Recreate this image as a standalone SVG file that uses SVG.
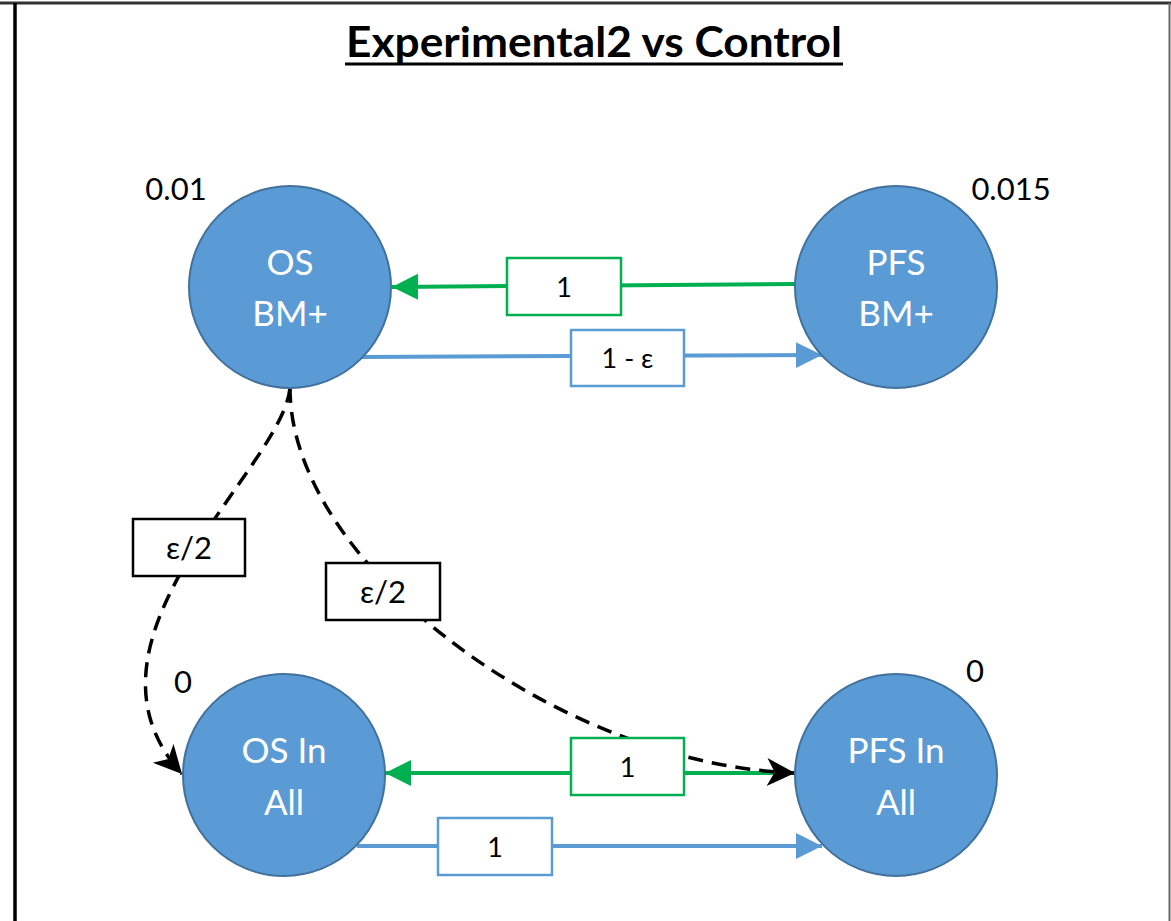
<svg xmlns="http://www.w3.org/2000/svg" width="1171" height="921" viewBox="0 0 1171 921">
<defs>
<style>
.node{fill:#5B9BD5;stroke:#41719C;stroke-width:2}
.nt{font-family:Lato,"Liberation Sans",sans-serif;font-size:35px;fill:#fff;text-anchor:middle}
.val{font-family:Lato,"Liberation Sans",sans-serif;font-size:31px;fill:#000;text-anchor:middle}
.lt{font-family:Lato,"Liberation Sans",sans-serif;font-size:27px;fill:#000;text-anchor:middle}
.le{font-family:Lato,"Liberation Sans",sans-serif;font-size:31px;fill:#000;text-anchor:middle}
.g{stroke:#00B050;stroke-width:4;fill:none}
.b{stroke:#5B9BD5;stroke-width:4;fill:none}
.d{stroke:#000;stroke-width:3.5;fill:none;stroke-dasharray:15 9}
.gbox{fill:#fff;stroke:#00B050;stroke-width:2.5}
.bbox{fill:#fff;stroke:#5B9BD5;stroke-width:2.5}
.kbox{fill:#fff;stroke:#000;stroke-width:2.5}
</style>
<marker id="ag" markerWidth="7" markerHeight="7" refX="6.5" refY="3.25" orient="auto" markerUnits="strokeWidth"><path d="M0,0 L6.5,3.25 L0,6.5 Z" fill="#00B050"/></marker>
<marker id="ab" markerWidth="7" markerHeight="7" refX="6.5" refY="3.25" orient="auto" markerUnits="strokeWidth"><path d="M0,0 L6.5,3.25 L0,6.5 Z" fill="#5B9BD5"/></marker>
<marker id="ak" markerWidth="9" markerHeight="9" refX="8" refY="4" orient="auto" markerUnits="strokeWidth"><path d="M0,0 L8,4 L0,8 L2.2,4 Z" fill="#000"/></marker>
</defs>
<rect x="0" y="0" width="1171" height="921" fill="#fff"/>
<g id="frame">
<line x1="0" y1="3" x2="1171" y2="3" stroke="#333" stroke-width="3"/>
<line x1="15" y1="3" x2="15" y2="921" stroke="#000" stroke-width="3.5"/>
<line x1="1169.5" y1="3" x2="1169.5" y2="921" stroke="#666" stroke-width="2"/>
</g>
<g id="title">
<text x="594" y="57" font-family="Lato,'Liberation Sans',sans-serif" font-weight="bold" font-size="42" text-anchor="middle" textLength="496" lengthAdjust="spacingAndGlyphs">Experimental2 vs Control</text>
<line x1="345" y1="64" x2="843" y2="64" stroke="#000" stroke-width="3"/>
</g>
<g id="connectors">
<path class="g" d="M795,284 L392,287" marker-end="url(#ag)"/>
<path class="b" d="M362,357 L822,355" marker-end="url(#ab)"/>
<path class="g" d="M795,773 L385,773" marker-end="url(#ag)"/>
<path class="b" d="M357,846 L822,846" marker-end="url(#ab)"/>
<path class="d" d="M290,388 C282,470 60,640 182,774" marker-end="url(#ak)"/>
<path class="d" d="M290,388 C290,565 560,765 795,773" marker-end="url(#ak)"/>
</g>
<g id="labels">
<rect class="gbox" x="507" y="258" width="114" height="57"/>
<text class="lt" x="564" y="297">1</text>
<rect class="bbox" x="571" y="330" width="113" height="56"/>
<text class="lt" x="627.5" y="368">1 - ε</text>
<rect class="kbox" x="133" y="519" width="112" height="57"/>
<text class="le" x="189" y="559">ε/2</text>
<rect class="kbox" x="326" y="563" width="114" height="57"/>
<text class="le" x="383" y="603">ε/2</text>
<rect class="gbox" x="571" y="738" width="113" height="57"/>
<text class="lt" x="627.5" y="777">1</text>
<rect class="bbox" x="438" y="818" width="114" height="57"/>
<text class="lt" x="495" y="857">1</text>
</g>
<g id="n-os-bm">
<circle class="node" cx="290" cy="287" r="101"/>
<text class="nt" x="290" y="275">OS</text>
<text class="nt" x="290" y="326">BM+</text>
<text class="val" x="176" y="200">0.01</text>
</g>
<g id="n-pfs-bm">
<circle class="node" cx="896" cy="287" r="101"/>
<text class="nt" x="896" y="275">PFS</text>
<text class="nt" x="896" y="326">BM+</text>
<text class="val" x="1011" y="200">0.015</text>
</g>
<g id="n-os-all">
<circle class="node" cx="284" cy="775" r="101"/>
<text class="nt" x="284" y="763">OS In</text>
<text class="nt" x="284" y="815">All</text>
<text class="val" x="183" y="693">0</text>
</g>
<g id="n-pfs-all">
<circle class="node" cx="896" cy="775" r="101"/>
<text class="nt" x="896" y="763">PFS In</text>
<text class="nt" x="896" y="815">All</text>
<text class="val" x="975" y="682">0</text>
</g>
</svg>
